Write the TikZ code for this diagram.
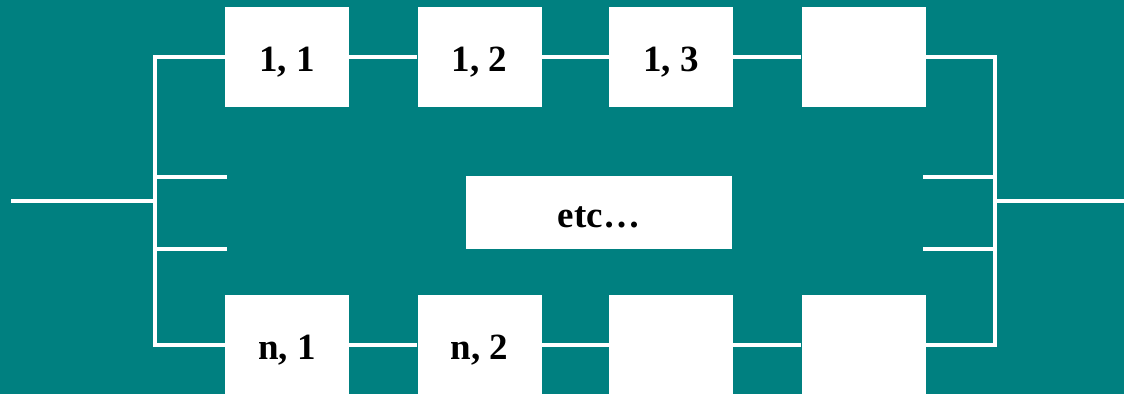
\documentclass[tikz,border=0pt]{standalone}
\usepackage{fontspec}
\setmainfont{Liberation Serif}
\definecolor{tealbg}{RGB}{0,128,128}
\begin{document}
\begin{tikzpicture}[x=1pt,y=-1pt,
  blk/.style={fill=white,draw=none,minimum width=124pt,minimum height=100pt,inner sep=0pt,
    font=\fontsize{37}{40}\selectfont\bfseries,text=black,text height=29.6pt,text depth=0pt},
  wire/.style={draw=white,line width=4pt}]
\useasboundingbox[fill=tealbg] (0,0) rectangle (1124,394);
% nodes
\node[blk] (b11) at (287,57) {1, 1};
\node[blk] (b12) at (479.5,57) {1, 2};
\node[blk] (b13) at (671,57) {1, 3};
\node[blk] (b14) at (863.5,57) {};
\node[blk] (bn1) at (287,345) {n, 1};
\node[blk] (bn2) at (479.5,345) {n, 2};
\node[blk] (bn3) at (671,345) {};
\node[blk] (bn4) at (863.5,345) {};
\node[blk,minimum width=266pt,minimum height=73pt] (etc) at (599,212.5) {etc\ldots};
% junction coordinates
\coordinate (lt) at (155,57);
\coordinate (lb) at (155,345);
\coordinate (lm) at (155,201);
\coordinate (lin) at (11,201);
\coordinate (ls1) at (155,177);
\coordinate (ls1e) at (227,177);
\coordinate (ls2) at (155,249);
\coordinate (ls2e) at (227,249);
\coordinate (rt) at (995,57);
\coordinate (rb) at (995,345);
\coordinate (rm) at (995,201);
\coordinate (rout) at (1124,201);
\coordinate (rs1) at (995,177);
\coordinate (rs1e) at (923,177);
\coordinate (rs2) at (995,249);
\coordinate (rs2e) at (923,249);
% wires
\draw[wire] (b11.west) -- (lt) -- (lb) -- (bn1.west);
\draw[wire] (b14.east) -- (rt) -- (rb) -- (bn4.east);
\draw[wire] (b11) -- (b12);
\draw[wire] (b12) -- (b13);
\draw[wire] (b13) -- (b14);
\draw[wire] (bn1) -- (bn2);
\draw[wire] (bn2) -- (bn3);
\draw[wire] (bn3) -- (bn4);
\draw[wire] (lin) -- (lm);
\draw[wire] (ls1) -- (ls1e);
\draw[wire] (ls2) -- (ls2e);
\draw[wire] (rm) -- (rout);
\draw[wire] (rs1) -- (rs1e);
\draw[wire] (rs2) -- (rs2e);
\end{tikzpicture}
\end{document}
